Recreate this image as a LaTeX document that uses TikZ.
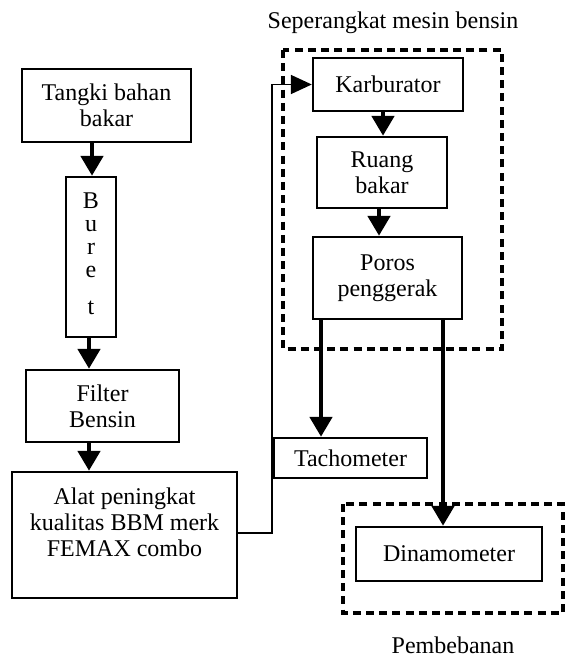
\documentclass[tikz,border=0pt]{standalone}
\usepackage{fontspec}
\setmainfont{Liberation Serif}
\usetikzlibrary{arrows.meta}
\begin{document}
\begin{tikzpicture}[x=0.5pt,y=-0.5pt,
  box/.style={draw, line width=1.2pt, inner sep=0pt, align=center, font=\fontsize{12}{13}\selectfont},
  lbl/.style={inner sep=0pt, align=center, font=\fontsize{12}{13}\selectfont},
  bigarrow/.style={line width=2.4pt, -{Triangle[width=11pt,length=10pt]}},
  connarrow/.style={line width=0.9pt, -{Triangle[width=9.5pt,length=10.5pt]}},
  dashbox/.style={draw, line width=1.6pt, dash pattern=on 4pt off 2.6pt}]
\useasboundingbox (0,0) rectangle (564,657);

% left column
\node[box, minimum width=84.5pt, minimum height=36.5pt] (tangki) at (106.5,105.5) {Tangki bahan\\bakar};
\node[box, minimum width=25pt, minimum height=80pt] (buret) at (91,257) {};
\node[lbl, font=\fontsize{12}{11.5}\selectfont, anchor=north] (buretT) at (91,192) {B\\u\\r\\e\\[7pt]t};
\node[box, minimum width=76.5pt, minimum height=36pt] (filter) at (102.5,406) {Filter\\Bensin};
\node[box, minimum width=112.5pt, minimum height=63pt] (alat) at (124.5,535) {};
\node[lbl, anchor=north] (alatT) at (124.5,487) {Alat peningkat\\kualitas BBM merk\\FEMAX combo};

% engine group
\node[lbl] (title) at (393,23) {Seperangkat mesin bensin};
\draw[dashbox] (283,50) rectangle (502,349);
\node[box, minimum width=75pt, minimum height=26.5pt] (karb) at (388,84.5) {Karburator};
\node[box, minimum width=65pt, minimum height=35.5pt] (ruang) at (382,172.5) {Ruang\\bakar};
\node[box, minimum width=74.5pt, minimum height=41pt] (poros) at (387.5,278) {Poros\\penggerak};

% outputs
\node[box, minimum width=76.5pt, minimum height=20pt] (tach) at (350.5,458) {Tachometer};
\draw[dashbox] (343,504) rectangle (563,613);
\node[box, minimum width=93pt, minimum height=27pt] (dino) at (449,554) {Dinamometer};
\node[lbl] (beban) at (453,645) {Pembebanan};

% helper coordinates
\coordinate (c1) at (92,0);
\coordinate (c2) at (89,0);
\coordinate (c3) at (383,0);
\coordinate (c4) at (379,0);
\coordinate (p1) at (321,0);
\coordinate (p2) at (443,0);
\coordinate (bend) at (272,0);

% arrows
\draw[bigarrow] (tangki.south -| c1) -- (buret.north -| c1);
\draw[bigarrow] (buret.south -| c2) -- (filter.north -| c2);
\draw[bigarrow] (filter.south -| c2) -- (alat.north -| c2);
\draw[bigarrow] (karb.south -| c3) -- (ruang.north -| c3);
\draw[bigarrow] (ruang.south -| c4) -- (poros.north -| c4);
\draw[bigarrow] (poros.south -| p1) -- (tach.north -| p1);
\draw[bigarrow] (poros.south -| p2) -- (dino.north -| p2);
\draw[connarrow] ([yshift=1pt]alat.east) -| (bend |- karb.west) -- (karb.west);
\end{tikzpicture}
\end{document}
